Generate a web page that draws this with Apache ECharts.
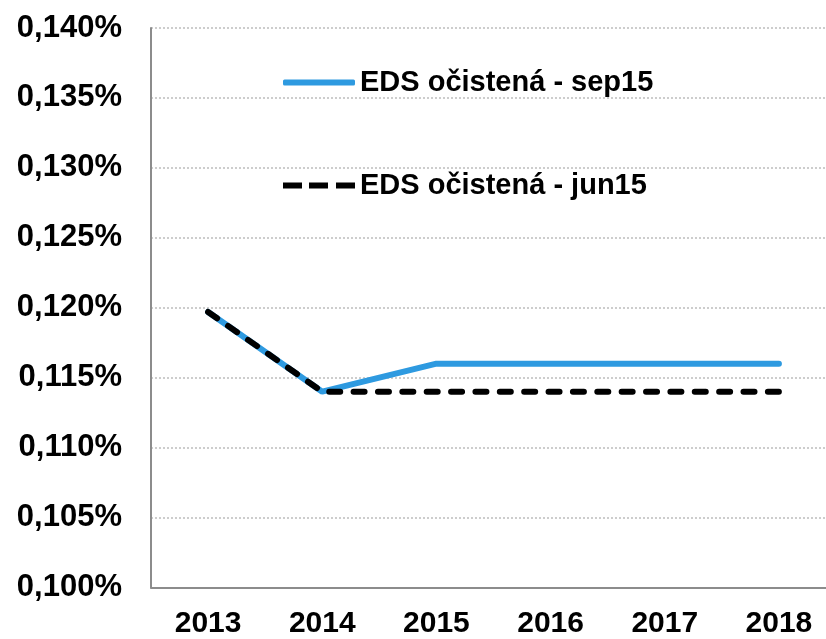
<!DOCTYPE html>
<html>
<head>
<meta charset="utf-8">
<script src="https://cdn.jsdelivr.net/npm/echarts@6/dist/echarts.min.js"></script>
<style>
  html, body { margin: 0; padding: 0; background: #fff; }
  #chart { width: 826px; height: 639px; }
</style>
</head>
<body>
<div id="chart"></div>
<script>
  // roky na ose x
  const years = ['2013', '2014', '2015', '2016', '2017', '2018'];
  // EDS očistená (v %)
  const sep15 = [0.1197, 0.114, 0.116, 0.116, 0.116, 0.116];
  const jun15 = [0.1197, 0.114, 0.114, 0.114, 0.114, 0.114];
  // osa y
  const yMin = 0.100;
  const yMax = 0.140;
  const yStep = 0.005;

  const FONT = '"Liberation Sans", Arial, sans-serif';
  const BLUE = '#2e9ae0';

  const legendText = { fontFamily: FONT, fontWeight: 'bold', fontSize: 29, color: '#000' };

  const chart = echarts.init(document.getElementById('chart'));

  const option = {
    animation: false,
    legend: [
      {
        data: [{ name: 'EDS očistená - sep15', icon: 'roundRect' }],
        left: 278,
        top: 63,
        itemWidth: 72,
        itemHeight: 6,
        itemGap: 6,
        textStyle: legendText
      },
      {
        data: [{
          name: 'EDS očistená - jun15',
          icon: 'path://M0,0h19v6h-19z M26,0h19v6h-19z M53,0h19v6h-19z'
        }],
        left: 278,
        top: 166,
        itemWidth: 72,
        itemHeight: 6,
        itemGap: 6,
        textStyle: legendText
      }
    ],
    grid: {
      left: 151,
      top: 28,
      width: 685,
      height: 559.5,
      outerBoundsMode: 'none',
      containLabel: false
    },
    xAxis: {
      type: 'category',
      data: years,
      boundaryGap: true,
      axisLine: { lineStyle: { color: '#8c8c8c', width: 2 } },
      axisTick: { show: false },
      axisLabel: {
        margin: 21,
        fontFamily: FONT,
        fontWeight: 'bold',
        fontSize: 30,
        color: '#000'
      }
    },
    yAxis: {
      type: 'value',
      min: yMin,
      max: yMax,
      interval: yStep,
      axisLine: { show: true, lineStyle: { color: '#8c8c8c', width: 2 } },
      axisTick: { show: false },
      splitLine: { lineStyle: { color: '#bdbdbd', type: [2, 2], width: 1.5 } },
      axisLabel: {
        margin: 29,
        fontFamily: FONT,
        fontWeight: 'bold',
        fontSize: 31,
        color: '#000',
        formatter: function (v) {
          return v.toFixed(3).replace('.', ',') + '%';
        }
      }
    },
    series: [
      {
        name: 'EDS očistená - sep15',
        type: 'line',
        data: sep15,
        symbol: 'none',
        lineStyle: { color: BLUE, width: 6, cap: 'round' },
        itemStyle: { color: BLUE }
      },
      {
        name: 'EDS očistená - jun15',
        type: 'line',
        data: jun15,
        symbol: 'none',
        lineStyle: { color: '#000', width: 6, type: [11, 13.37], cap: 'round' },
        itemStyle: { color: '#000' }
      }
    ]
  };

  chart.setOption(option);
</script>
</body>
</html>
